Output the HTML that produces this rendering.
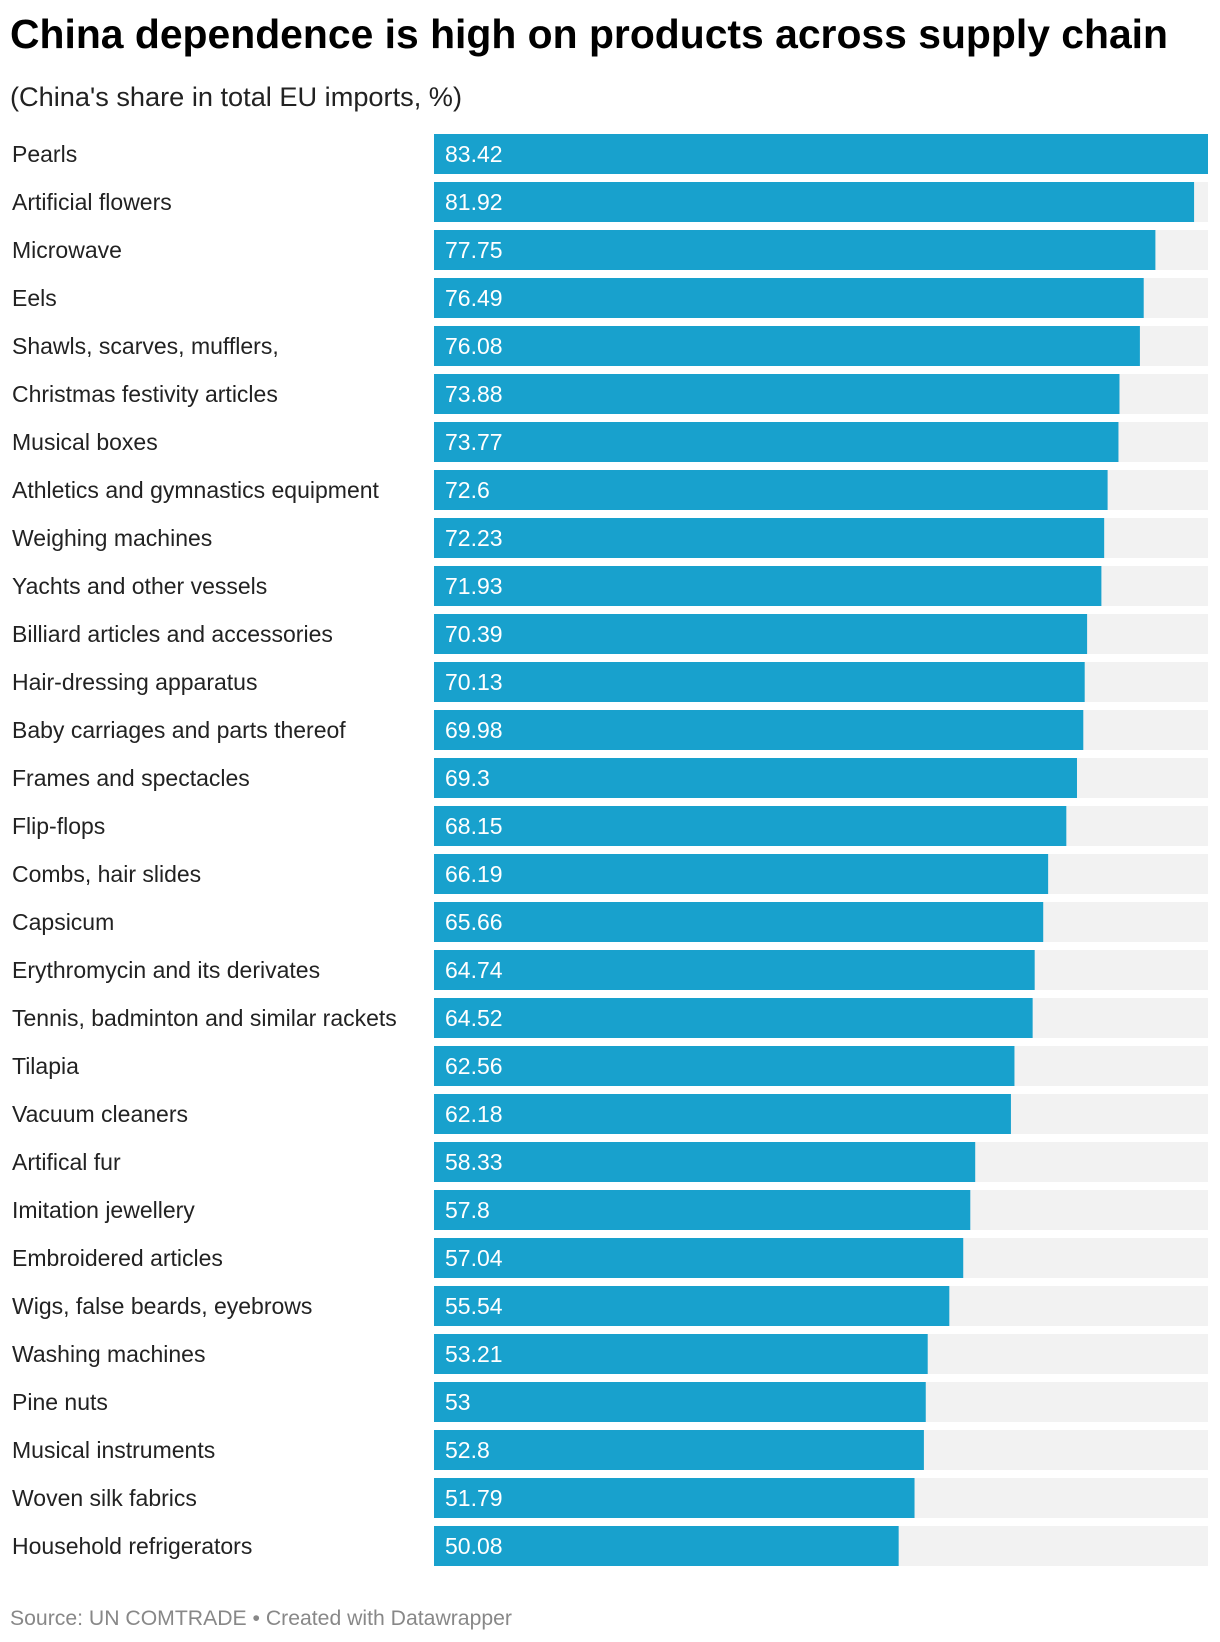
<!DOCTYPE html>
<html><head><meta charset="utf-8"><style>
html,body{margin:0;padding:0;background:#fff;}
svg{display:block;font-family:"Liberation Sans",Roboto,sans-serif;}
</style></head><body>
<svg id="chart" width="1220" height="1642" viewBox="0 0 1220 1642">
<text x="10" y="48" font-size="41" font-weight="bold" fill="#000" textLength="1158" lengthAdjust="spacingAndGlyphs">China dependence is high on products across supply chain</text>
<text x="10" y="106" font-size="27" fill="#222" textLength="452" lengthAdjust="spacingAndGlyphs">(China's share in total EU imports, %)</text>
<g id="bars"></g>
<text x="10" y="1625" font-size="21" fill="#888" textLength="502" lengthAdjust="spacingAndGlyphs">Source: UN COMTRADE • Created with Datawrapper</text>
</svg>
<script>
const categories = ["Pearls","Artificial flowers","Microwave","Eels","Shawls, scarves, mufflers,","Christmas festivity articles","Musical boxes","Athletics and gymnastics equipment","Weighing machines","Yachts and other vessels","Billiard articles and accessories","Hair-dressing apparatus","Baby carriages and parts thereof","Frames and spectacles","Flip-flops","Combs, hair slides","Capsicum","Erythromycin and its derivates","Tennis, badminton and similar rackets","Tilapia","Vacuum cleaners","Artifical fur","Imitation jewellery","Embroidered articles","Wigs, false beards, eyebrows","Washing machines","Pine nuts","Musical instruments","Woven silk fabrics","Household refrigerators"];
const values = [83.42,81.92,77.75,76.49,76.08,73.88,73.77,72.6,72.23,71.93,70.39,70.13,69.98,69.3,68.15,66.19,65.66,64.74,64.52,62.56,62.18,58.33,57.8,57.04,55.54,53.21,53,52.8,51.79,50.08];
const valueLabels = ["83.42","81.92","77.75","76.49","76.08","73.88","73.77","72.6","72.23","71.93","70.39","70.13","69.98","69.3","68.15","66.19","65.66","64.74","64.52","62.56","62.18","58.33","57.8","57.04","55.54","53.21","53","52.8","51.79","50.08"];

const NS="http://www.w3.org/2000/svg";
const x0=434, plotW=774, top0=134, pitch=48, barH=40;
const maxV=Math.max(...values);
const xScale=v=>v/maxV*plotW;
const yScale=i=>top0+i*pitch;
const g=document.getElementById('bars');
categories.forEach((c,i)=>{
  const y=yScale(i);
  const bg=document.createElementNS(NS,'rect');
  
  
  bg.setAttribute('x',x0);bg.setAttribute('y',y);bg.setAttribute('width',plotW);bg.setAttribute('height',barH);bg.setAttribute('fill','#f2f2f2');
  g.appendChild(bg);
  const r=document.createElementNS(NS,'rect');
  
  
  r.setAttribute('x',x0);r.setAttribute('y',y);r.setAttribute('width',xScale(values[i]));r.setAttribute('height',barH);r.setAttribute('fill','#18a1cd');
  g.appendChild(r);
  const t=document.createElementNS(NS,'text');
  
  
  t.setAttribute('x',12);t.setAttribute('y',y+barH/2+8);t.setAttribute('font-size','23');t.setAttribute('fill','#222');
  t.textContent=c;
  g.appendChild(t);
  const v=document.createElementNS(NS,'text');
  
  
  v.setAttribute('x',x0+11);v.setAttribute('y',y+barH/2+8);v.setAttribute('font-size','23');v.setAttribute('fill','#fff');
  v.textContent=valueLabels[i];
  g.appendChild(v);
});
</script>
</body></html>
